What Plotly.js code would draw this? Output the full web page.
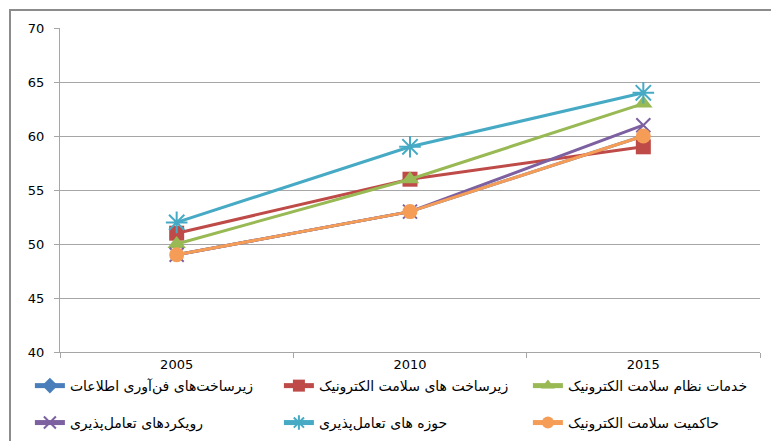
<!DOCTYPE html>
<html>
<head>
<meta charset="utf-8">
<script src="https://cdn.plot.ly/plotly-3.0.1.min.js"></script>
<style>html,body{margin:0;padding:0;background:#fff;}#chart{width:771px;height:441px;}</style>
</head>
<body>
<div id="chart"></div>
<script>
const categories = ['2005', '2010', '2015'];
const seriesNames = [
  'زیرساخت‌های فن‌آوری اطلاعات',
  'زیرساخت های سلامت الکترونیک',
  'خدمات نظام سلامت الکترونیک',
  'رویکردهای تعامل‌پذیری',
  'حوزه های تعامل‌پذیری',
  'حاکمیت سلامت الکترونیک'
];
const itInfra = [49, 53, 60];
const ehealthInfra = [51, 56, 59];
const ehealthServices = [50, 56, 63];
const interopApproaches = [49, 53, 61];
const interopDomains = [52, 59, 64];
const ehealthGovernance = [49, 53, 60];
const yTicks = [40, 45, 50, 55, 60, 65, 70];

const values = [itInfra, ehealthInfra, ehealthServices, interopApproaches, interopDomains, ehealthGovernance];
const colors = ['#4A7EBB', '#BE4B48', '#98B954', '#7D60A0', '#46AAC5', '#F59D56'];
const symbols = ['diamond', 'square', 'triangle-up', 'x-thin-open', 'asterisk-open', 'circle'];
const sizes = [8, 15, 16, 14, 18, 15];
const legendIds = ['legend', 'legend', 'legend', 'legend2', 'legend2', 'legend2'];

const traces = values.map((v, i) => ({
  type: 'scatter',
  mode: 'lines+markers',
  x: categories,
  y: v,
  name: seriesNames[i],
  legend: legendIds[i],
  line: {color: colors[i], width: 3},
  marker: {
    symbol: symbols[i],
    size: sizes[i],
    color: colors[i],
    line: {color: colors[i], width: (symbols[i].indexOf('open') >= 0) ? 2 : 0}
  }
}));

const legendCommon = {
  orientation: 'h',
  x: -0.043,
  xanchor: 'left',
  yanchor: 'middle',
  entrywidth: 204,
  entrywidthmode: 'pixels',
  itemsizing: 'constant',
  font: {family: 'DejaVu Sans, sans-serif', size: 14, color: '#000'},
  bgcolor: 'rgba(0,0,0,0)',
  borderwidth: 0,
  tracegroupgap: 0
};

const layout = {
  width: 771,
  height: 441,
  margin: {l: 60, r: 11, t: 28, b: 89, autoexpand: false},
  paper_bgcolor: '#ffffff',
  plot_bgcolor: '#ffffff',
  font: {family: 'DejaVu Sans, sans-serif', size: 13, color: '#000'},
  showlegend: true,
  xaxis: {
    type: 'category',
    range: [-0.5, 2.5],
    showgrid: false,
    showline: true,
    linecolor: '#a6a6a6',
    linewidth: 1,
    ticks: 'outside',
    tickson: 'boundaries',
    ticklen: 5,
    tickcolor: '#a6a6a6',
    tickfont: {family: 'DejaVu Sans, sans-serif', size: 13, color: '#000'},
    zeroline: false,
    fixedrange: true
  },
  yaxis: {
    range: [40, 70],
    tickvals: yTicks,
    ticktext: yTicks.map(String),
    showgrid: true,
    gridcolor: '#a6a6a6',
    gridwidth: 1,
    showline: true,
    linecolor: '#a6a6a6',
    ticks: 'outside',
    ticklen: 5,
    tickcolor: '#a6a6a6',
    ticklabelstandoff: 7,
    tickfont: {family: 'DejaVu Sans, sans-serif', size: 13, color: '#000'},
    zeroline: false,
    fixedrange: true
  },
  legend: Object.assign({}, legendCommon, {y: -0.105}),
  legend2: Object.assign({}, legendCommon, {y: -0.219}),
  shapes: [{
    type: 'rect',
    xref: 'paper', yref: 'paper',
    x0: -50 / 700, x1: 1.2,
    y0: -0.5, y1: 1 + 18 / 324,
    line: {color: '#8c8c8c', width: 2},
    fillcolor: 'rgba(0,0,0,0)',
    layer: 'below'
  }]
};

Plotly.newPlot('chart', traces, layout, {displayModeBar: false, staticPlot: true});
</script>
</body>
</html>
